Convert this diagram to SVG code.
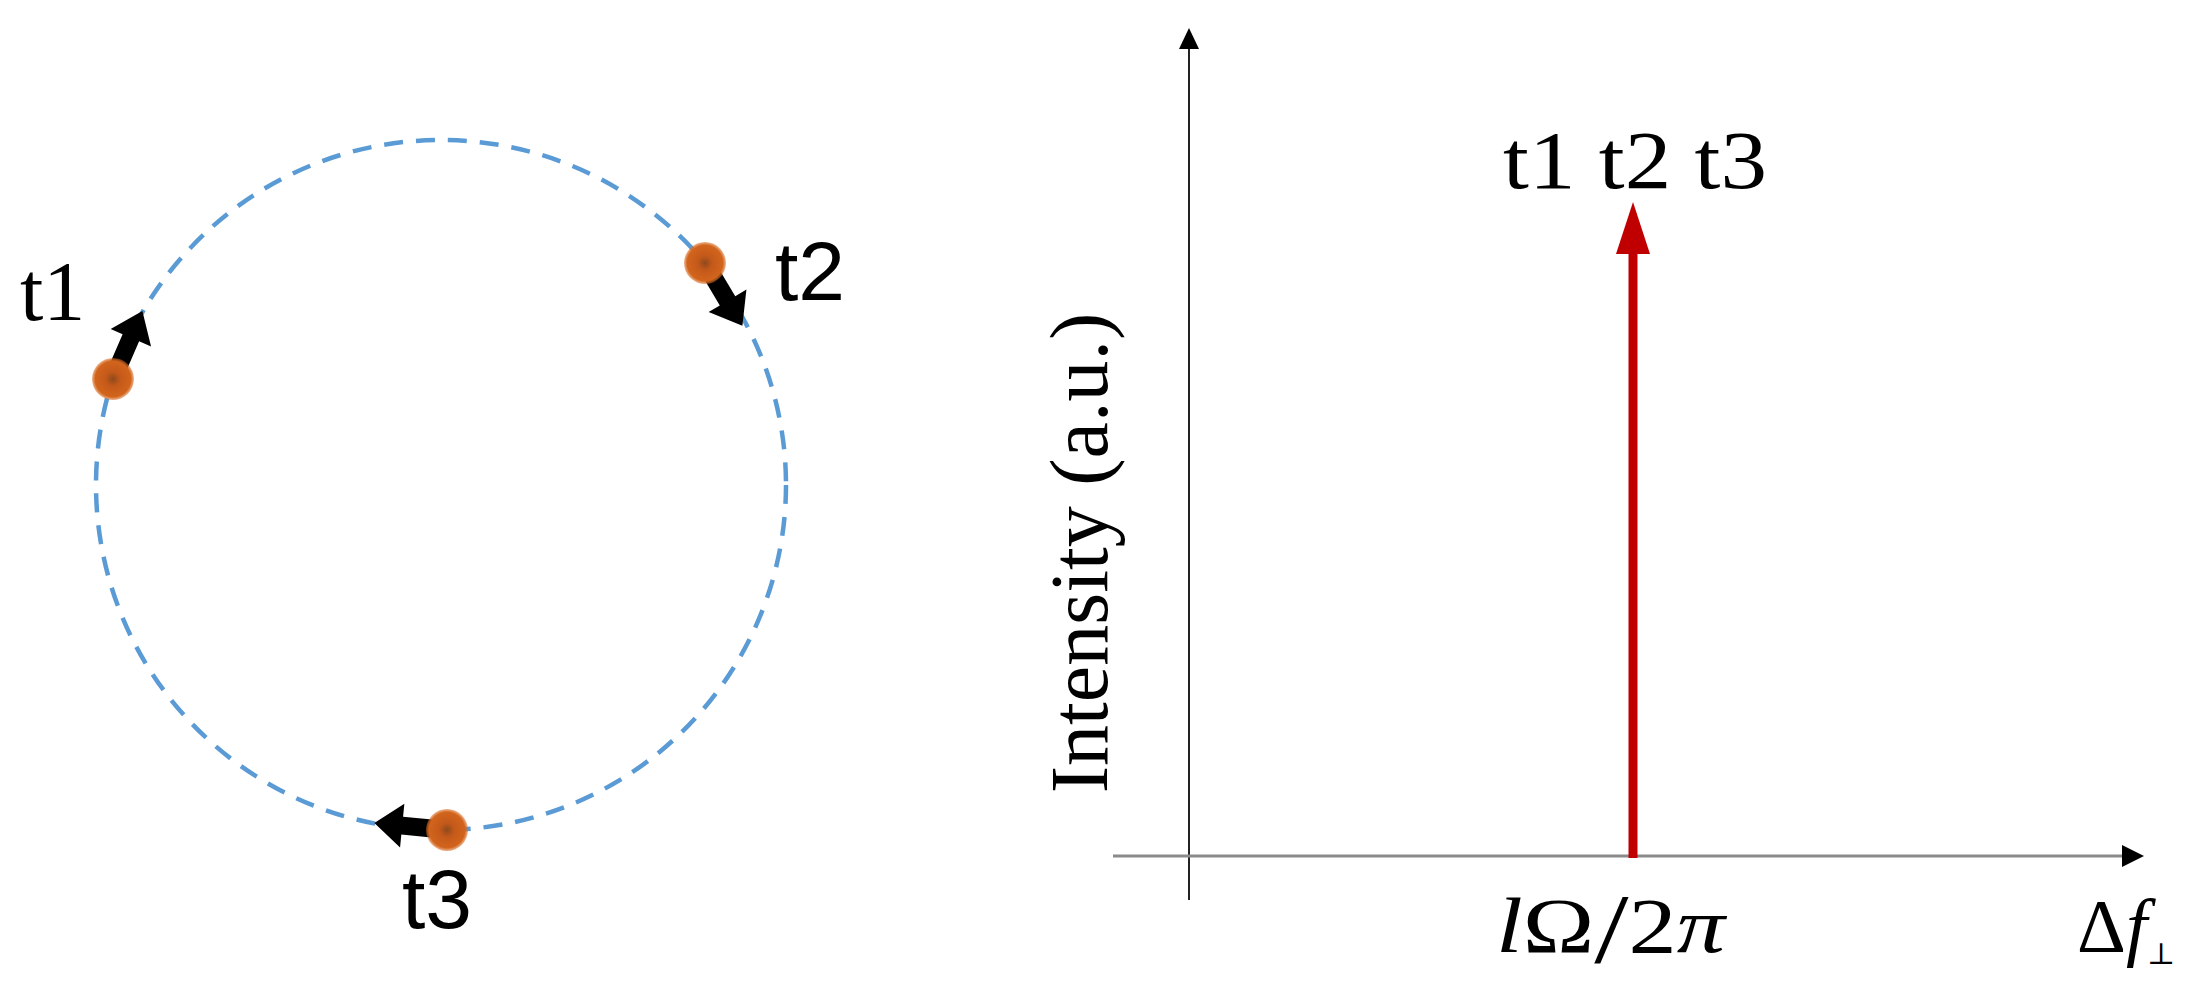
<svg xmlns="http://www.w3.org/2000/svg" width="2196" height="992" viewBox="0 0 2196 992">
<style>
.serif{font-family:"Liberation Serif","DejaVu Serif",serif;fill:#000}
.sans{font-family:"Liberation Sans",Arial,sans-serif;fill:#000}
.orbit{fill:none;stroke:#5B9BD5;stroke-width:4.5;stroke-dasharray:19 13}
.blk{fill:#000}
.dot{fill:url(#dotg)}
</style>
<defs>
<radialGradient id="dotg">
<stop offset="0" stop-color="#8f4a1c"/>
<stop offset="0.35" stop-color="#c4591a"/>
<stop offset="0.85" stop-color="#d2641c"/>
<stop offset="1" stop-color="#d86c24" stop-opacity="0.5"/>
</radialGradient>
</defs>
<rect width="2196" height="992" fill="#fff"/>

<g id="orbit">
<circle class="orbit" cx="441" cy="485" r="345"/>
</g>

<g id="t1">
<polygon class="blk" transform="translate(113,379) rotate(-66.6)" points="0,-9 45,-9 45,-22 74,0 45,22 45,9 0,9"/>
<circle class="dot" cx="113" cy="379" r="21"/>
<text class="serif" x="20" y="320" font-size="84">t1</text>
</g>

<g id="t2">
<polygon class="blk" transform="translate(705,263) rotate(59.2)" points="0,-9 44,-9 44,-22 73,0 44,22 44,9 0,9"/>
<circle class="dot" cx="705" cy="263" r="21"/>
<text class="sans" x="775" y="300" font-size="84">t2</text>
</g>

<g id="t3">
<polygon class="blk" transform="translate(447,830) rotate(185.6)" points="0,-9 45,-9 45,-22 73,0 45,22 45,9 0,9"/>
<circle class="dot" cx="447" cy="830" r="21"/>
<text class="sans" x="437" y="928" font-size="84" text-anchor="middle">t3</text>
</g>

<g id="axes">
<line x1="1189" y1="900" x2="1189" y2="48" stroke="#222" stroke-width="2"/>
<polygon points="1189,28 1179,49 1199,49" fill="#000"/>
<line x1="1113" y1="856" x2="2124" y2="856" stroke="#8a8a8a" stroke-width="3"/>
<polygon points="2144,856 2122,845 2122,867" fill="#000"/>
</g>

<g id="peak">
<line x1="1633" y1="858" x2="1633" y2="248" stroke="#C00000" stroke-width="9"/>
<polygon points="1633,202 1616,254 1650,254" fill="#C00000"/>
</g>

<g id="labels">
<text class="serif" x="1503" y="188" font-size="82" textLength="264" lengthAdjust="spacingAndGlyphs">t1 t2 t3</text>
<text class="serif" font-size="82" text-anchor="middle" transform="translate(1107,553) rotate(-90)">Intensity (a.u.)</text>
<text class="serif" x="1496" y="952" font-size="78" textLength="229" lengthAdjust="spacingAndGlyphs"><tspan font-style="italic">l</tspan><tspan>Ω</tspan><tspan font-size="100" dy="10">/</tspan><tspan dy="-10">2</tspan><tspan font-style="italic">π</tspan></text>
<text class="serif" x="2077" y="952" font-size="76">Δ<tspan font-style="italic">f</tspan><tspan font-size="30" dy="12">⊥</tspan></text>
</g>
</svg>
